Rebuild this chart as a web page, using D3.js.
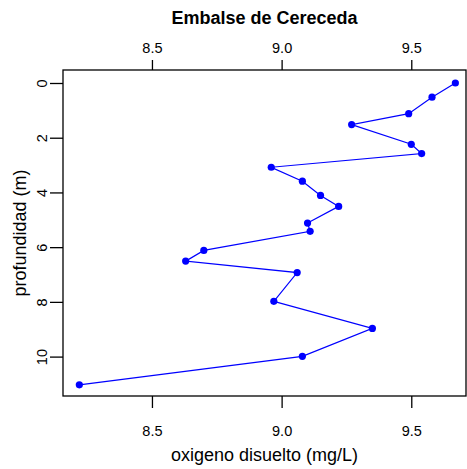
<!DOCTYPE html>
<html>
<head>
<meta charset="utf-8">
<script src="https://cdn.jsdelivr.net/npm/d3@7"></script>
<style>
body { margin: 0; background: #fff; }
text { font-family: "Liberation Sans", Arial, sans-serif; }
</style>
</head>
<body>
<div id="chart"></div>
<script>
// oxygen (mg/L) vs depth (m)
var oxigeno = [9.67, 9.58, 9.49, 9.27, 9.50, 9.54, 8.96, 9.08, 9.15, 9.22, 9.10, 9.11, 8.70, 8.63, 9.06, 8.97, 9.35, 9.08, 8.22];
var profundidad = [0, 0.52, 1.12, 1.52, 2.24, 2.58, 3.08, 3.59, 4.11, 4.51, 5.12, 5.42, 6.12, 6.51, 6.93, 7.98, 8.97, 9.99, 11.03];
var xTicks = [8.5, 9.0, 9.5];
var yTicks = [0, 2, 4, 6, 8, 10];

var W = 467, H = 469;
var margin = {top: 70, right: 1, bottom: 73, left: 63};
var width = W - margin.left - margin.right;
var height = H - margin.top - margin.bottom;

var svg = d3.select("#chart").append("svg")
    .attr("width", W)
    .attr("height", H)
    .append("g")
    .attr("transform", "translate(" + margin.left + "," + margin.top + ")");

var xScale = d3.scaleLinear().domain([8.157, 9.711]).range([0, width]);
var yScale = d3.scaleLinear().domain([-0.475, 11.44]).range([0, height]);

// bottom axis
var xAxis = d3.axisBottom(xScale).tickValues(xTicks).tickSize(12).tickPadding(18)
    .tickFormat(d3.format(".1f"));
var gx = svg.append("g").attr("transform", "translate(0," + height + ")").call(xAxis);

// top axis
var xAxisTop = d3.axisTop(xScale).tickValues(xTicks).tickSize(10).tickPadding(7)
    .tickFormat(d3.format(".1f"));
var gxt = svg.append("g").call(xAxisTop);

// left axis
var yAxis = d3.axisLeft(yScale).tickValues(yTicks).tickSize(13).tickPadding(4);
var gy = svg.append("g").call(yAxis);
gy.selectAll(".tick text")
    .attr("transform", "rotate(-90)")
    .attr("x", 0).attr("y", -21)
    .attr("dy", "0.35em")
    .style("text-anchor", "middle");

[gx, gxt, gy].forEach(function(g) {
    g.select(".domain").remove();
    g.selectAll(".tick line").attr("stroke", "#000").attr("stroke-width", 1.3);
    g.selectAll(".tick text").style("font-size", "14.5px").attr("fill", "#000");
});

// box
svg.append("rect")
    .attr("x", 0).attr("y", 0)
    .attr("width", width).attr("height", height)
    .attr("fill", "none").attr("stroke", "#000").attr("stroke-width", 1.3);

// line
svg.append("path")
    .datum(oxigeno)
    .attr("fill", "none")
    .attr("stroke", "#0000ff")
    .attr("stroke-width", 1.2)
    .attr("d", d3.line()
        .x(function(d, i) { return xScale(oxigeno[i]); })
        .y(function(d, i) { return yScale(profundidad[i]); })
    );

svg.selectAll("circle.pt")
    .data(oxigeno)
    .enter().append("circle")
    .attr("class", "pt")
    .attr("cx", function(d) { return xScale(d); })
    .attr("cy", function(d, i) { return yScale(profundidad[i]); })
    .attr("r", 3.6)
    .style("fill", "#0000ff");

// title
svg.append("text")
    .attr("x", width / 2).attr("y", -46)
    .style("text-anchor", "middle")
    .style("font-size", "18px")
    .style("font-weight", "bold")
    .text("Embalse de Cereceda");

// x label
svg.append("text")
    .attr("x", width / 2).attr("y", height + 65)
    .style("text-anchor", "middle")
    .style("font-size", "18px")
    .text("oxigeno disuelto (mg/L)");

// y label
svg.append("text")
    .attr("transform", "rotate(-90)")
    .attr("x", -height / 2).attr("y", -37)
    .style("text-anchor", "middle")
    .style("font-size", "18px")
    .text("profundidad (m)");
</script>
</body>
</html>
